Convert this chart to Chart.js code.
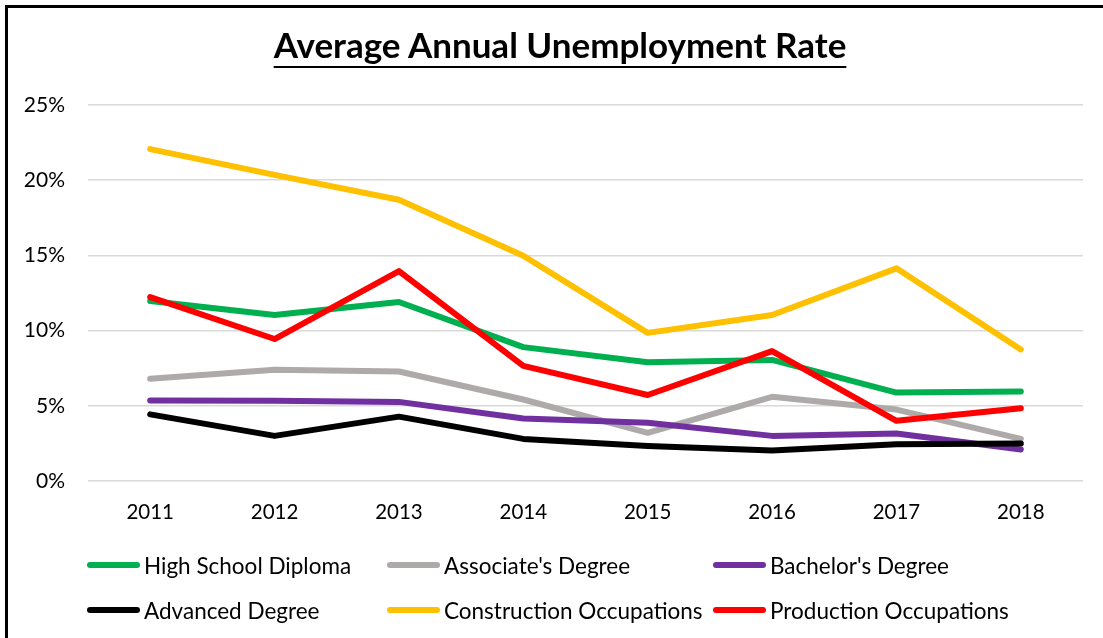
<!DOCTYPE html>
<html>
<head>
<meta charset="utf-8">
<script src="https://cdn.jsdelivr.net/npm/chart.js@4"></script>
<style>
  body { margin: 0; width: 1103px; height: 638px; overflow: hidden; background: #fff; font-family: Lato, sans-serif; }
  #frame { position: absolute; left: 5px; top: 5px; width: 1300px; height: 900px; border-left: 3px solid #000; border-top: 3px solid #000; }
  #title { position: absolute; left: 0; top: 27px; width: 1120px; text-align: center; font: bold 35px Lato, sans-serif; line-height: 35px;
           text-decoration: underline; text-decoration-thickness: 2px; text-underline-offset: 8px; color: #000; }
  #chart { position: absolute; left: 0; top: 0; }
  .item { position: absolute; display: flex; align-items: center; font-size: 22.5px; color: #000; white-space: nowrap; }
  .swatch { display: inline-block; width: 53px; height: 6px; border-radius: 3px; margin-right: 4px; }
</style>
</head>
<body>
<div id="frame"></div>
<canvas id="chart" width="1103" height="638"></canvas>
<div id="title">Average Annual Unemployment Rate</div>
<div id="legend"></div>
<script>
// Years and unemployment rates (%)
const years = ['2011', '2012', '2013', '2014', '2015', '2016', '2017', '2018'];
const highSchool = [11.97, 11.04, 11.9, 8.9, 7.9, 8.05, 5.88, 5.95];
const associate = [6.8, 7.4, 7.28, 5.42, 3.2, 5.6, 4.75, 2.8];
const bachelor = [5.36, 5.34, 5.26, 4.15, 3.88, 3.0, 3.16, 2.1];
const advanced = [4.43, 3.0, 4.28, 2.8, 2.33, 2.02, 2.44, 2.5];
const construction = [22.07, 20.35, 18.7, 14.98, 9.85, 11.04, 14.14, 8.75];
const production = [12.23, 9.44, 13.96, 7.65, 5.72, 8.64, 4.0, 4.84];

const seriesNames = ['High School Diploma', "Associate's Degree", "Bachelor's Degree",
  'Advanced Degree', 'Construction Occupations', 'Production Occupations'];
const seriesData = [highSchool, associate, bachelor, advanced, construction, production];
const seriesColors = ['#00B050', '#AEAAAA', '#7030A0', '#000000', '#FFC000', '#FF0000'];
const yTicks = [0, 5, 10, 15, 20, 25];

const ctx = document.getElementById('chart').getContext('2d');
const chart = new Chart(ctx, {
  type: 'line',
  data: {
    labels: years,
    datasets: seriesNames.map((name, i) => ({
      label: name,
      data: seriesData[i],
      borderColor: seriesColors[i],
      backgroundColor: seriesColors[i],
      borderWidth: 6,
      borderCapStyle: 'round',
      borderJoinStyle: 'round',
      pointRadius: 0,
      tension: 0,
      order: seriesNames.length - i // later series on top, like the original
    }))
  },
  options: {
    responsive: false,
    animation: false,
    devicePixelRatio: 1,
    layout: { padding: { top: 105, bottom: 97, left: 0, right: 20 } },
    plugins: { legend: { display: false }, tooltip: { enabled: false } },
    scales: {
      x: {
        offset: true,
        grid: { display: false, drawTicks: false },
        border: { display: false },
        ticks: { color: '#000', font: { family: 'Lato', size: 20.5 }, padding: 19 },
        afterFit: scale => { scale.height = 60; }
      },
      y: {
        min: 0,
        max: 25,
        afterBuildTicks: scale => { scale.ticks = yTicks.map(v => ({ value: v })); },
        grid: { color: '#d9d9d9', lineWidth: 1.5, drawTicks: false },
        border: { display: false },
        ticks: { color: '#000', font: { family: 'Lato', size: 21 }, padding: 23, callback: v => v + '%' },
        afterFit: scale => { scale.width = 88; }
      }
    }
  }
});

// Legend laid out in a grid like the original
const legendCols = [87, 387, 713];
const legendRows = [565, 610];
const legend = document.getElementById('legend');
chart.data.datasets.forEach((ds, i) => {
  const item = document.createElement('div');
  item.className = 'item';
  item.style.left = legendCols[i % 3] + 'px';
  item.style.top = (legendRows[Math.floor(i / 3)] - 13) + 'px';
  item.style.height = '26px';
  const sw = document.createElement('span');
  sw.className = 'swatch';
  sw.style.background = ds.borderColor;
  item.appendChild(sw);
  item.appendChild(document.createTextNode(ds.label));
  legend.appendChild(item);
});
</script>
</body>
</html>
